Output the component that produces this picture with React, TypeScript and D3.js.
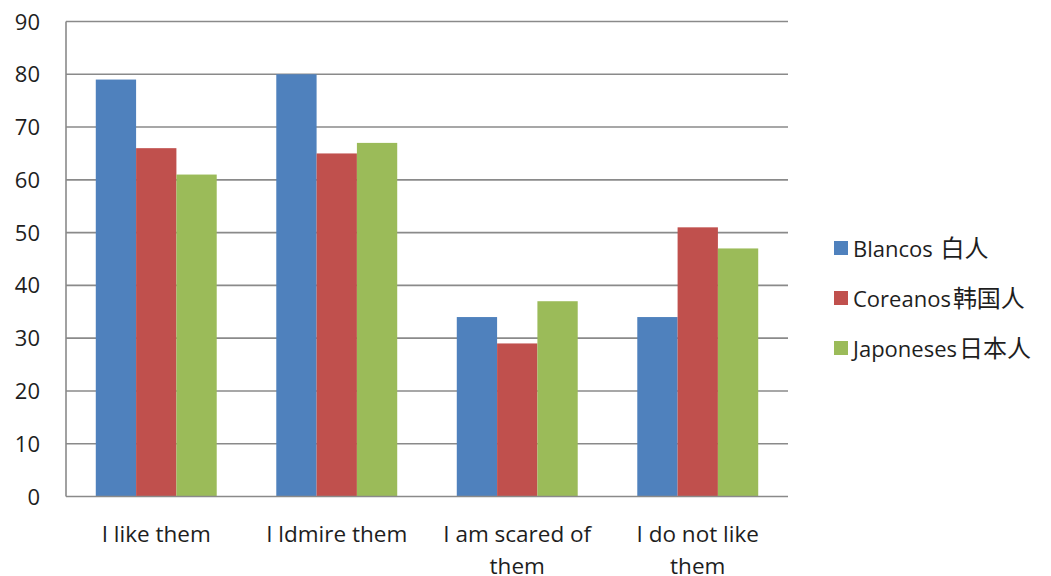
import React, { useEffect, useRef } from "react";
import * as d3 from "d3";

// Survey responses by group (percent)
const categories = ["I like them", "I ldmire them", "I am scared of them", "I do not like them"];
const seriesLatin = ["Blancos ", "Coreanos", "Japoneses"];
const seriesCjk = ["白人", "韩国人", "日本人"];
const blancos = [79, 80, 34, 34];
const coreanos = [66, 65, 29, 51];
const japoneses = [61, 67, 37, 47];
const yTicks = [0, 10, 20, 30, 40, 50, 60, 70, 80, 90];
const colors = ["#4F81BD", "#C0504D", "#9BBB59"];

const W = 1051;
const H = 576;
const FONT = "'Open Sans', 'Noto Sans CJK SC', 'Noto Sans CJK JP', sans-serif";
const CJK_FONT = "'Noto Sans CJK SC', 'Noto Sans CJK JP', sans-serif";

export default function App() {
  const ref = useRef<SVGSVGElement | null>(null);

  useEffect(() => {
    const svg = d3.select(ref.current);
    svg.selectAll("*").remove();

    const plot = { left: 66, right: 788, top: 21.5, bottom: 496.5 };
    const values = [blancos, coreanos, japoneses];
    const seriesKeys = seriesLatin.map((s, i) => s + seriesCjk[i]);

    const x = d3
      .scaleBand<string>()
      .domain(categories)
      .range([plot.left, plot.right])
      .paddingInner(0.33)
      .paddingOuter(0.165);
    const xs = d3
      .scaleBand<string>()
      .domain(seriesKeys)
      .range([0, x.bandwidth()]);
    const y = d3.scaleLinear().domain([0, 90]).range([plot.bottom, plot.top]);

    // horizontal gridlines
    svg
      .append("g")
      .selectAll("line")
      .data(yTicks.filter((t) => t > 0))
      .join("line")
      .attr("x1", plot.left)
      .attr("x2", plot.right)
      .attr("y1", (d) => y(d))
      .attr("y2", (d) => y(d))
      .attr("stroke", "#8a8a8a")
      .attr("stroke-width", 1.6);

    // bars
    values.forEach((vals, si) => {
      svg
        .append("g")
        .selectAll("rect")
        .data(vals)
        .join("rect")
        .attr("x", (_, i) => (x(categories[i]) as number) + (xs(seriesKeys[si]) as number))
        .attr("width", xs.bandwidth())
        .attr("y", (d) => y(d))
        .attr("height", (d) => y(0) - y(d))
        .attr("fill", colors[si]);
    });

    // axis lines
    svg
      .append("line")
      .attr("x1", plot.left)
      .attr("x2", plot.left)
      .attr("y1", plot.top)
      .attr("y2", plot.bottom)
      .attr("stroke", "#8a8a8a")
      .attr("stroke-width", 1.6);
    svg
      .append("line")
      .attr("x1", plot.left)
      .attr("x2", plot.right)
      .attr("y1", plot.bottom)
      .attr("y2", plot.bottom)
      .attr("stroke", "#8a8a8a")
      .attr("stroke-width", 1.6);

    // y tick labels
    svg
      .append("g")
      .selectAll("text")
      .data(yTicks)
      .join("text")
      .attr("x", 40)
      .attr("y", (d) => y(d) + 8)
      .attr("text-anchor", "end")
      .attr("font-family", FONT)
      .attr("font-size", 22)
      .attr("fill", "#1e1e1e")
      .text((d) => String(d));

    // category labels, wrapped to the band width
    const maxW = 170;
    categories.forEach((cat) => {
      const cx = (x(cat) as number) + x.bandwidth() / 2;
      const t = svg
        .append("text")
        .attr("text-anchor", "middle")
        .attr("font-family", FONT)
        .attr("font-size", 22.5)
        .attr("fill", "#1e1e1e");
      const words = cat.split(" ");
      let line: string[] = [];
      let lineNo = 0;
      let tspan = t.append("tspan").attr("x", cx).attr("y", 541.5);
      words.forEach((w) => {
        line.push(w);
        tspan.text(line.join(" "));
        const node = tspan.node() as SVGTSpanElement;
        if (node.getComputedTextLength() > maxW && line.length > 1) {
          line.pop();
          tspan.text(line.join(" "));
          line = [w];
          lineNo += 1;
          tspan = t
            .append("tspan")
            .attr("x", cx)
            .attr("y", 541.5 + lineNo * 32)
            .text(w);
        }
      });
    });

    // legend
    const lg = svg.append("g");
    seriesLatin.forEach((name, i) => {
      const base = 257 + i * 50;
      lg.append("rect")
        .attr("x", 834)
        .attr("y", base - 16)
        .attr("width", 14)
        .attr("height", 14)
        .attr("fill", colors[i]);
      const t = lg
        .append("text")
        .attr("x", 853)
        .attr("y", base)
        .attr("font-family", FONT)
        .attr("font-size", 22)
        .attr("fill", "#1e1e1e");
      t.append("tspan").text(name);
      t.append("tspan")
        .attr("font-family", CJK_FONT)
        .attr("font-size", 24)
        .attr("dx", 2)
        .text(seriesCjk[i]);
    });
  }, []);

  return (
    <svg
      ref={ref}
      width={W}
      height={H}
      style={{ position: "absolute", left: 0, top: 0, background: "#fff" }}
    />
  );
}
